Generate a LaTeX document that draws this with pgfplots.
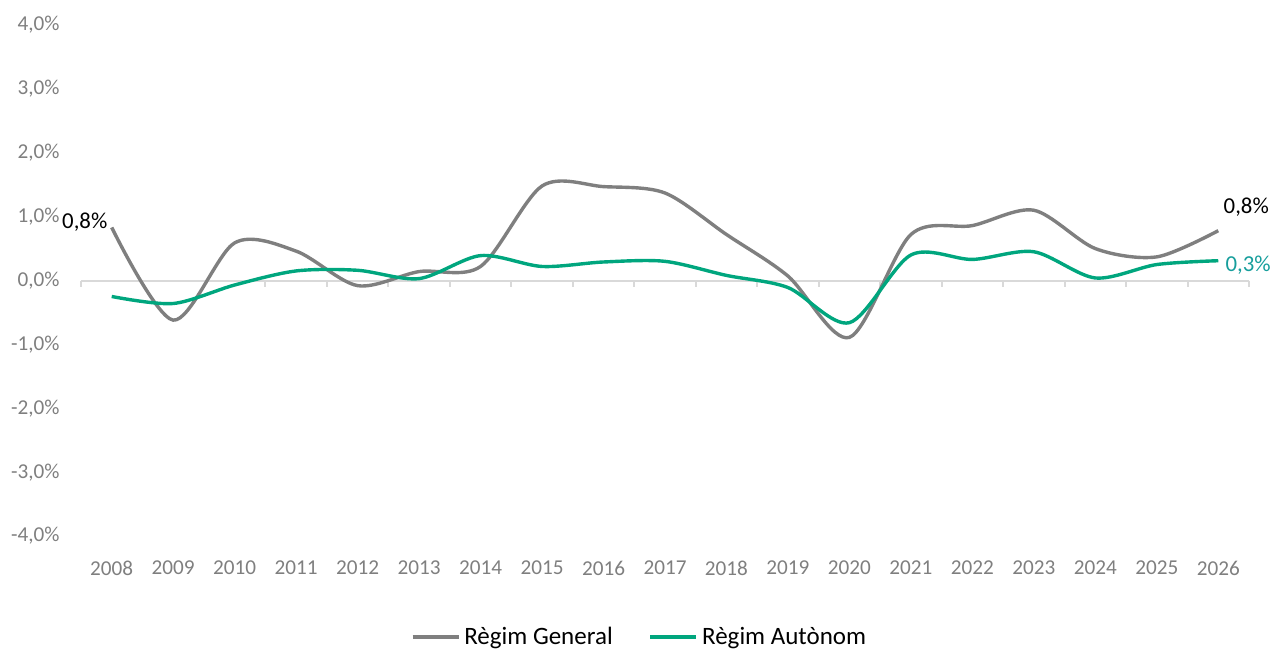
\documentclass[border=0pt]{standalone}
\usepackage{pgfplots}
\pgfplotsset{compat=1.18}
\usepackage{fontspec}
\setmainfont{Carlito}
\definecolor{lgray}{HTML}{7F7F7F}
\definecolor{lgreen}{HTML}{00A67E}
\definecolor{lteal}{HTML}{179E9C}
\definecolor{axgray}{HTML}{D9D9D9}
\definecolor{tkgray}{HTML}{7F7F7F}
\begin{document}
\begin{tikzpicture}
\begin{axis}[
  scale only axis,
  width=584pt, height=255.5pt,
  xmin=-0.5, xmax=18.5, ymin=-4, ymax=4,
  axis line style={draw=none},
  major tick length=0pt,
  xtick={0,...,18},
  xticklabels={2008,2009,2010,2011,2012,2013,2014,2015,2016,2017,2018,2019,2020,2021,2022,2023,2024,2025,2026},
  ytick={-4,-3,-2,-1,0,1,2,3,4},
  yticklabels={{-4,0\%},{-3,0\%},{-2,0\%},{-1,0\%},{0,0\%},{1,0\%},{2,0\%},{3,0\%},{4,0\%}},
  xticklabel style={anchor=center, inner sep=0pt, yshift=-16pt, font=\fontsize{10.6pt}{12pt}\selectfont, text=tkgray},
  yticklabel style={anchor=east, inner sep=0pt, xshift=-10.5pt, font=\fontsize{10.6pt}{12pt}\selectfont, text=tkgray},
  clip=false,
  legend columns=2,
  legend style={at={(0.479,-0.198)}, anchor=center, draw=none, fill=none,
    font=\fontsize{12.5pt}{14pt}\selectfont,
    /tikz/every even column/.append style={column sep=16pt}},
  legend image code/.code={\draw[#1] (0pt,0pt) -- (23pt,0pt);},
]
\draw[axgray, line width=1pt] (axis cs:-0.5,0) -- (axis cs:18.5,0);
\pgfplotsinvokeforeach{-0.5,2.5,3.5,4.5,5.5,6.5,7.5,8.5,9.5,10.5,11.5,12.5,13.5,14.5,15.5,16.5,17.5,18.5}{
  \draw[axgray, line width=1pt] (axis cs:#1,0) -- ++(0pt,-3pt);
}
\addplot[lgray, line width=1.7pt, smooth, tension=0.5] coordinates {
(0,0.83) (1,-0.62) (2,0.59) (3,0.46) (4,-0.08) (5,0.14) (6,0.22) (7,1.48) (8,1.47) (9,1.37) (10,0.72) (11,0.07) (12,-0.89) (13,0.72) (14,0.86) (15,1.10) (16,0.50) (17,0.37) (18,0.78)
};
\addlegendentry{Règim General}
\addplot[lgreen, line width=1.7pt, smooth, tension=0.5] coordinates {
(0,-0.25) (1,-0.36) (2,-0.07) (3,0.15) (4,0.16) (5,0.03) (6,0.39) (7,0.22) (8,0.29) (9,0.30) (10,0.08) (11,-0.11) (12,-0.66) (13,0.40) (14,0.33) (15,0.45) (16,0.04) (17,0.25) (18,0.31)
};
\addlegendentry{Règim Autònom}
\node[anchor=east, inner sep=0pt, font=\fontsize{11.4pt}{13pt}\selectfont] at ([xshift=-2pt,yshift=2.8pt]axis cs:0,0.83) {0,8\%};
\node[anchor=center, inner sep=0pt, font=\fontsize{11.4pt}{13pt}\selectfont] at ([xshift=14pt,yshift=12pt]axis cs:18,0.78) {0,8\%};
\node[anchor=west, inner sep=0pt, text=lteal, font=\fontsize{11.4pt}{13pt}\selectfont] at ([xshift=3.5pt,yshift=-2pt]axis cs:18,0.31) {0,3\%};
\end{axis}
\pgfresetboundingbox
\path (-40.5pt,-57pt) rectangle (596.5pt,268pt);
\end{tikzpicture}
\end{document}
